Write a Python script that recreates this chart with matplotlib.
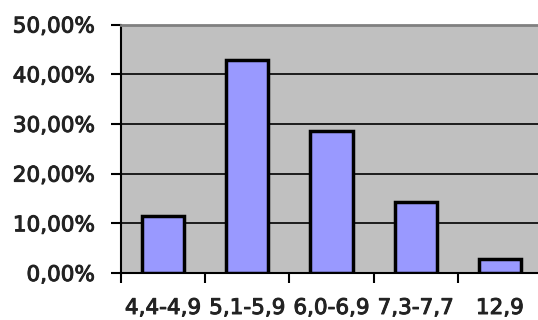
import numpy as np
import matplotlib.pyplot as plt
import matplotlib.patheffects as pe
from matplotlib.ticker import FuncFormatter

categories = ['4,4-4,9', '5,1-5,9', '6,0-6,9', '7,3-7,7', '12,9']
shares = [4 / 35, 15 / 35, 10 / 35, 5 / 35, 1 / 35]
y_ticks = [0, 0.1, 0.2, 0.3, 0.4, 0.5]

fig = plt.figure(figsize=(5.38, 3.2), dpi=100)
ax = fig.add_axes([121 / 538, 1 - 273 / 320, 421 / 538, 248.5 / 320])
ax.set_facecolor('#C0C0C0')

x = np.arange(len(categories))
ax.bar(x, shares, width=0.5, color='#9999FF', edgecolor='black', linewidth=2.5, zorder=3)

ax.set_xlim(-0.5, len(categories) - 0.5)
ax.set_ylim(0, 0.5)
ax.set_yticks(y_ticks)
ax.yaxis.set_major_formatter(FuncFormatter(lambda v, p: f'{v * 100:.2f}%'.replace('.', ',')))
ax.grid(axis='y', color='black', linewidth=1.2, zorder=1)

# ticks between categories, labels in the middle
ax.set_xticks(np.arange(len(categories)) - 0.5)
ax.set_xticklabels([])
ax.set_xticks(x, minor=True)
ax.set_xticklabels(categories, minor=True)
ax.tick_params(axis='x', which='minor', length=0, pad=18)
ax.tick_params(axis='x', which='major', length=7, width=1.5, color='black')
ax.tick_params(axis='y', length=7, width=1.5, pad=12)

for lab in ax.get_xticklabels(minor=True) + ax.get_yticklabels():
    lab.set_fontsize(15.5)
    lab.set_color('#222222')
    lab.set_path_effects([pe.withStroke(linewidth=0.7, foreground='#222222')])

ax.spines['left'].set_linewidth(1.5)
ax.spines['bottom'].set_linewidth(1.5)
ax.spines['top'].set_color('#808080')
ax.spines['top'].set_linewidth(2)
ax.spines['right'].set_visible(False)

fig.savefig('out.png', dpi=100)
